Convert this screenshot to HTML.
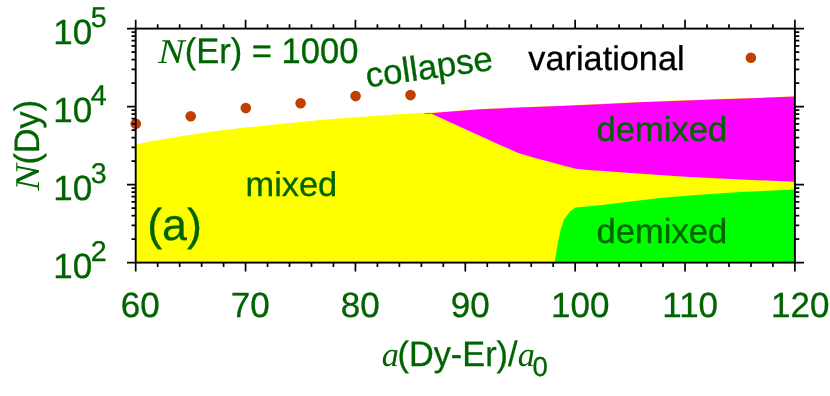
<!DOCTYPE html>
<html><head><meta charset="utf-8"><title>chart</title>
<style>
html,body{margin:0;padding:0;background:#fff;}
body{width:830px;height:396px;overflow:hidden;}
svg{display:block;will-change:transform;}
text{font-family:"Liberation Sans",sans-serif;fill:#006400;stroke:#006400;stroke-width:0.3;text-rendering:geometricPrecision;}
.it{font-family:"Liberation Serif",serif;font-style:italic;stroke:none;}
</style></head><body>
<svg width="830" height="396" viewBox="0 0 830 396">
<rect width="830" height="396" fill="#fff"/>
<path d="M135.7 144.2 L156 140.6 L178 136.8 L199 133.4 L220 130.4 L245 127.6 L270 125.0 L295 122.4 L320 119.9 L345 118.0 L370 116.3 L395 114.6 L420 113.1 L432.5 112.5 L480 108.9 L520 107.2 L560 105.7 L600 103.8 L640 101.8 L680 100.3 L720 98.8 L760 97.5 L794.9 96.2 L794.9 262.6 L135.7 262.6 Z" fill="#ffff00"/>
<path d="M424.5 113.3 L432.5 112.9 L480 109.30000000000001 L520 107.60000000000001 L560 106.10000000000001 L600 104.2 L640 102.2 L680 100.7 L720 99.2 L760 97.9 L794.9 96.60000000000001 L794.9 181.8 L740.5 179.4 L685.5 176.8 L630.5 173.1 L600 170.7 L588 170.0 L575.8 168.8 L563 165.6 L550.5 162.1 L535 157.9 L519 153.2 L500 145.0 L431.5 113.8 L424.5 113.9 Z" fill="#ff00ff"/>
<path d="M554.6 262.6 L557.9 242.5 L560.7 229.5 L563.9 219.6 L570.3 211.2 L575.5 207.5 L600 205.2 L630.5 201.4 L660 198.0 L696 194.9 L740.5 192.0 L794.9 189.6 L794.9 262.6 Z" fill="#00ff00"/>
<g fill="#c04000"><circle cx="135.8" cy="123.7" r="5.3"/><circle cx="190.7" cy="116.3" r="5.3"/><circle cx="245.8" cy="108.1" r="5.3"/><circle cx="300.6" cy="103.2" r="5.3"/><circle cx="355.6" cy="96.1" r="5.3"/><circle cx="410.5" cy="95.1" r="5.3"/><circle cx="750.9" cy="57.7" r="5.3"/></g>
<rect x="135.7" y="28.6" width="659.2" height="234.00000000000003" fill="none" stroke="#000" stroke-width="1.9"/>
<path d="M135.70 28.6 v-8.9 M135.70 262.6 v8.9 M157.67 28.6 v-4.3 M157.67 262.6 v4.3 M179.65 28.6 v-4.3 M179.65 262.6 v4.3 M201.62 28.6 v-4.3 M201.62 262.6 v4.3 M223.59 28.6 v-4.3 M223.59 262.6 v4.3 M245.57 28.6 v-8.9 M245.57 262.6 v8.9 M267.54 28.6 v-4.3 M267.54 262.6 v4.3 M289.51 28.6 v-4.3 M289.51 262.6 v4.3 M311.49 28.6 v-4.3 M311.49 262.6 v4.3 M333.46 28.6 v-4.3 M333.46 262.6 v4.3 M355.43 28.6 v-8.9 M355.43 262.6 v8.9 M377.41 28.6 v-4.3 M377.41 262.6 v4.3 M399.38 28.6 v-4.3 M399.38 262.6 v4.3 M421.35 28.6 v-4.3 M421.35 262.6 v4.3 M443.33 28.6 v-4.3 M443.33 262.6 v4.3 M465.30 28.6 v-8.9 M465.30 262.6 v8.9 M487.27 28.6 v-4.3 M487.27 262.6 v4.3 M509.25 28.6 v-4.3 M509.25 262.6 v4.3 M531.22 28.6 v-4.3 M531.22 262.6 v4.3 M553.19 28.6 v-4.3 M553.19 262.6 v4.3 M575.17 28.6 v-8.9 M575.17 262.6 v8.9 M597.14 28.6 v-4.3 M597.14 262.6 v4.3 M619.11 28.6 v-4.3 M619.11 262.6 v4.3 M641.09 28.6 v-4.3 M641.09 262.6 v4.3 M663.06 28.6 v-4.3 M663.06 262.6 v4.3 M685.03 28.6 v-8.9 M685.03 262.6 v8.9 M707.01 28.6 v-4.3 M707.01 262.6 v4.3 M728.98 28.6 v-4.3 M728.98 262.6 v4.3 M750.95 28.6 v-4.3 M750.95 262.6 v4.3 M772.93 28.6 v-4.3 M772.93 262.6 v4.3 M794.90 28.6 v-8.9 M794.90 262.6 v8.9 M135.7 262.60 h-8.7 M794.9 262.60 h9.1 M135.7 239.12 h-4.2 M794.9 239.12 h4.4 M135.7 225.38 h-4.2 M794.9 225.38 h4.4 M135.7 215.64 h-4.2 M794.9 215.64 h4.4 M135.7 208.08 h-4.2 M794.9 208.08 h4.4 M135.7 201.90 h-4.2 M794.9 201.90 h4.4 M135.7 196.68 h-4.2 M794.9 196.68 h4.4 M135.7 192.16 h-4.2 M794.9 192.16 h4.4 M135.7 188.17 h-4.2 M794.9 188.17 h4.4 M135.7 184.60 h-8.7 M794.9 184.60 h9.1 M135.7 161.12 h-4.2 M794.9 161.12 h4.4 M135.7 147.38 h-4.2 M794.9 147.38 h4.4 M135.7 137.64 h-4.2 M794.9 137.64 h4.4 M135.7 130.08 h-4.2 M794.9 130.08 h4.4 M135.7 123.90 h-4.2 M794.9 123.90 h4.4 M135.7 118.68 h-4.2 M794.9 118.68 h4.4 M135.7 114.16 h-4.2 M794.9 114.16 h4.4 M135.7 110.17 h-4.2 M794.9 110.17 h4.4 M135.7 106.60 h-8.7 M794.9 106.60 h9.1 M135.7 83.12 h-4.2 M794.9 83.12 h4.4 M135.7 69.38 h-4.2 M794.9 69.38 h4.4 M135.7 59.64 h-4.2 M794.9 59.64 h4.4 M135.7 52.08 h-4.2 M794.9 52.08 h4.4 M135.7 45.90 h-4.2 M794.9 45.90 h4.4 M135.7 40.68 h-4.2 M794.9 40.68 h4.4 M135.7 36.16 h-4.2 M794.9 36.16 h4.4 M135.7 32.17 h-4.2 M794.9 32.17 h4.4 M135.7 28.60 h-8.7 M794.9 28.60 h9.1" stroke="#000" stroke-width="1.7" fill="none"/>
<!-- y tick labels -->
<g font-size="35">
<text x="53.3" y="43.7">10<tspan font-size="28.6" dx="-1.6" dy="-16.9">5</tspan></text>
<text x="53.3" y="121.7">10<tspan font-size="28.6" dx="-1.6" dy="-16.9">4</tspan></text>
<text x="53.3" y="199.7">10<tspan font-size="28.6" dx="-1.6" dy="-16.9">3</tspan></text>
<text x="53.3" y="277.7">10<tspan font-size="28.6" dx="-1.6" dy="-16.9">2</tspan></text>
</g>
<g font-size="35" text-anchor="middle">
<text x="140.2" y="317.2">60</text>
<text x="250.2" y="317.2">70</text>
<text x="360.2" y="317.2">80</text>
<text x="470.2" y="317.2">90</text>
<text x="580.2" y="317.2">100</text>
<text x="690.2" y="317.2">110</text>
<text x="800.2" y="317.2">120</text>
</g>
<text x="381.8" y="365.7" font-size="34.3" class="it">a</text>
<text transform="translate(397.5,365.7) scale(1,1.03)" font-size="34.3">(Dy-Er)/</text>
<text x="517.8" y="365.7" font-size="34.3" class="it">a</text>
<text x="532.6" y="375.5" font-size="27.5">0</text>
<text transform="translate(39.1,190.8) rotate(-90) scale(1.15,1)" font-size="34.7" class="it">N</text>
<text transform="translate(39.1,164.6) rotate(-90) scale(1,1.03)" font-size="34.3">(Dy)</text>
<text transform="translate(158,63.3) scale(1.15,1)" font-size="34.7" class="it">N</text>
<text transform="translate(184.8,63.4) scale(1,1.03)" font-size="34.5">(Er) = 1000</text>
<text transform="translate(367.3,87.5) rotate(-8)" font-size="34.9">collapse</text>
<text x="528.3" y="69.5" font-size="34.3" style="fill:#000;stroke:#000">variational</text>
<text x="245.5" y="195.8" font-size="34.4">mixed</text>
<text x="596.6" y="141.1" font-size="34.6">demixed</text>
<text x="596.6" y="242.7" font-size="34.6">demixed</text>
<text x="147.2" y="240.4" font-size="44.8">(a)</text>
</svg>
</body></html>
